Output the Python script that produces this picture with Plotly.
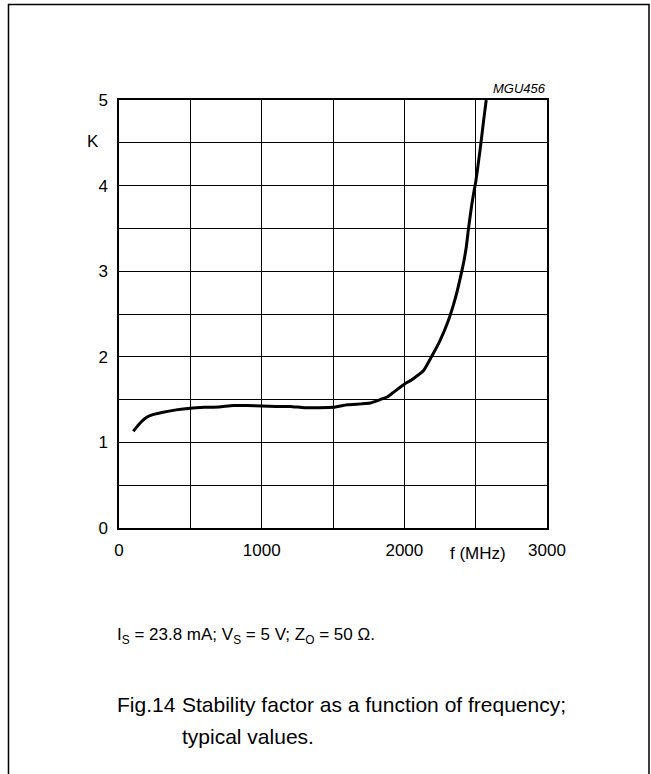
import plotly.graph_objects as go

# Data
freq_mhz = [100, 150, 200, 250, 300, 400, 500, 600, 700, 800, 900, 1000, 1100,
            1200, 1300, 1400, 1500, 1600, 1700, 1760, 1830, 1880, 1920, 2000,
            2050, 2100, 2135, 2190, 2250, 2310, 2360, 2404, 2420, 2434, 2450,
            2462, 2474, 2488, 2502, 2520, 2537, 2555, 2574]
k_factor = [1.13, 1.23, 1.30, 1.33, 1.35, 1.38, 1.40, 1.41, 1.415, 1.43, 1.43,
            1.425, 1.42, 1.42, 1.405, 1.405, 1.41, 1.44, 1.45, 1.46, 1.50, 1.53,
            1.58, 1.68, 1.73, 1.79, 1.84, 2.0, 2.19, 2.43, 2.70, 3.01, 3.14,
            3.28, 3.50, 3.65, 3.79, 3.93, 4.06, 4.28, 4.5, 4.75, 5.0]

x_tickvals = [0, 500, 1000, 1500, 2000, 2500, 3000]
x_ticktext = ["0", "", "1000", "", "2000", "", "3000"]
y_tickvals = [0, 0.5, 1, 1.5, 2, 2.5, 3, 3.5, 4, 4.5, 5]
y_ticktext = ["0", "", "1", "", "2", "", "3", "", "4", "", "5"]

W, H = 651, 774
L, R, T, B = 119, 547, 100, 528
PW, PH = R - L, B - T

def px(x):
    return (x - L) / PW

def py(y):
    return (B - y) / PH

FONT = "Arial, Liberation Sans, sans-serif"

fig = go.Figure()
fig.add_trace(go.Scatter(
    x=freq_mhz, y=k_factor, mode="lines",
    line=dict(color="black", width=3, shape="spline", smoothing=0.5),
    showlegend=False, hoverinfo="skip",
))

axis_common = dict(
    showgrid=True, gridcolor="black", gridwidth=1.2,
    showline=True, linecolor="black", linewidth=1.5, mirror=True,
    zeroline=False, ticks="", tickfont=dict(family=FONT, size=17, color="black"),
    tickmode="array", fixedrange=True,
)

fig.update_xaxes(range=[0, 3000], tickvals=x_tickvals, ticktext=x_ticktext,
                 ticklabelstandoff=6, **axis_common)
fig.update_yaxes(range=[0, 5], tickvals=y_tickvals, ticktext=y_ticktext,
                 ticklabelstandoff=6, **axis_common)

annotations = [
    dict(x=px(93), y=py(142), text="K", font=dict(size=17)),
    dict(x=px(478), y=py(553), text="f (MHz)", font=dict(size=17)),
    dict(x=px(548), y=py(88), text="<i>MGU456</i>", xanchor="right",
         font=dict(size=13)),
    dict(x=px(115), y=py(636), xanchor="left",
         text="I<sub>S</sub> = 23.8 mA; V<sub>S</sub> = 5 V; Z<sub>O</sub> = 50 \u03a9.",
         font=dict(size=17)),
    dict(x=px(115), y=py(704), xanchor="left",
         text="Fig.14", font=dict(size=21)),
    dict(x=px(180), y=py(704), xanchor="left",
         text="Stability factor as a function of frequency;", font=dict(size=21)),
    dict(x=px(180), y=py(736), xanchor="left",
         text="typical values.", font=dict(size=21)),
]
for a in annotations:
    a.update(xref="paper", yref="paper", showarrow=False,
             yanchor=a.get("yanchor", "middle"), xanchor=a.get("xanchor", "center"))
    a["font"].update(family=FONT, color="black")

fig.update_layout(
    width=W, height=H,
    margin=dict(l=L, r=W - R, t=T, b=H - B, pad=0),
    paper_bgcolor="white", plot_bgcolor="white",
    annotations=annotations,
    shapes=[dict(type="rect", xref="paper", yref="paper",
                 x0=px(8.5), x1=px(649), y0=py(790), y1=py(4.5),
                 line=dict(color="black", width=1.5), layer="below")],
)

fig.write_html("out.html", config={"displayModeBar": False},
               post_script="document.body.style.margin='0';document.body.style.overflow='hidden';")
